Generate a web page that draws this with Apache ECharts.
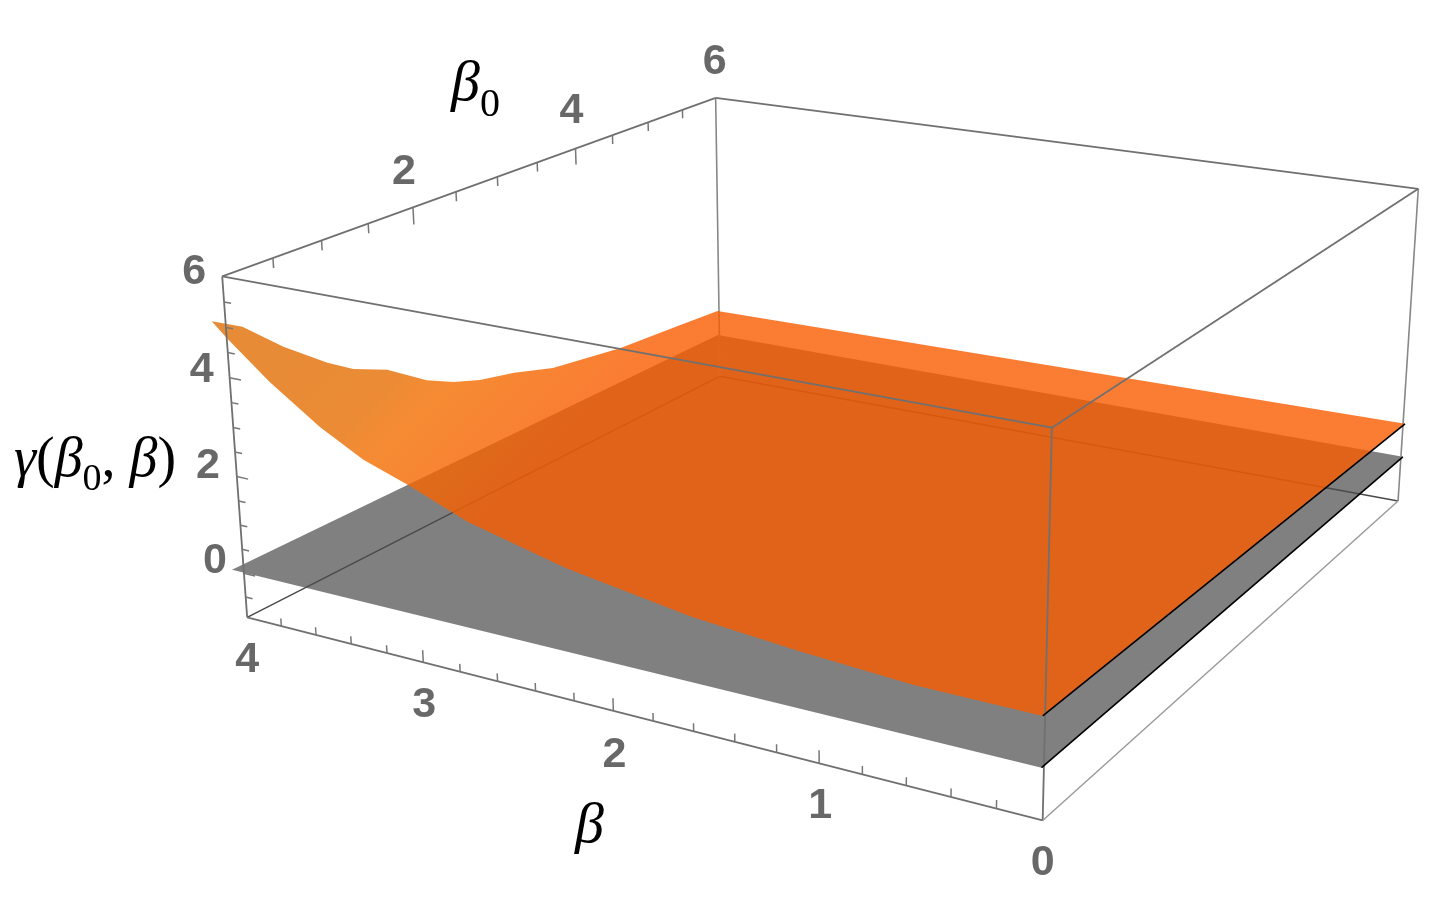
<!DOCTYPE html>
<html>
<head>
<meta charset="utf-8">
<style>html,body{margin:0;background:#fff}#main{width:1434px;height:912px}</style>
</head>
<body>
<div id="main"></div>
<script src="https://cdn.jsdelivr.net/npm/echarts@6/dist/echarts.min.js"></script>
<script>
// axis ranges of the box
const betaRange = [0, 4];
const beta0Range = [0, 6];
const gammaRange = [-0.93, 6];

const betaMajor = [0, 1, 2, 3, 4];
const betaMinor = [0.2, 0.4, 0.6, 0.8, 1.2, 1.4, 1.6, 1.8, 2.2, 2.4, 2.6, 2.8, 3.2, 3.4, 3.6, 3.8];
const beta0Major = [2, 4, 6];
const beta0Minor = [0.5, 1, 1.5, 2.5, 3, 3.5, 4.5, 5, 5.5];
const gammaMajor = [0, 2, 4, 6];
const gammaMinor = [-0.5, 0.5, 1, 1.5, 2.5, 3, 3.5, 4.5, 5, 5.5];

// surface edge at beta0 = 0
const frontBeta = [0.01, 0.57, 1.1, 1.6, 2.22, 2.72, 3.03, 3.27, 3.5, 3.77, 4.0, 4.08];
const frontGamma = [0.97, 0.98, 1.11, 1.28, 1.66, 2.13, 2.6, 2.91, 3.38, 4.08, 4.79, 5.07];
// surface edge at beta = 4
const sideBeta0 = [0.24, 0.63, 1.07, 1.34, 1.71, 2.15, 2.46, 2.78, 3.21, 3.71, 4.63, 5.51];
const sideGamma = [4.79, 4.08, 3.39, 3.04, 2.72, 2.13, 1.83, 1.61, 1.42, 1.12, 0.85, 0.72];
const sideBeta = 4.05;
// far corners at beta0 = 6: [beta, gamma]
const farCornerA = [4.01, 0.73];
const farCornerB = [-0.01, 0.84];
// grey plane corners: [beta, beta0, gamma]
const planeCorners = [[4.07, 0, 0.01], [0.01, 0, 0.03], [-0.01, 6, 0.09], [4.01, 6, 0.12]];

// perspective camera: homogeneous [u, v, w] = camera * [beta, beta0, gamma, 1]
const camera = [
    [-189.3914, 128.4264, -5.749512, 1043.86],
    [-24.29111, -28.90234, -59.90936, 769.8766],
    [0.04339643, 0.04922951, -0.006735215, 1]
];
const project = (b, b0, g) => {
    const w = camera[2][0] * b + camera[2][1] * b0 + camera[2][2] * g + camera[2][3];
    return [
        (camera[0][0] * b + camera[0][1] * b0 + camera[0][2] * g + camera[0][3]) / w,
        (camera[1][0] * b + camera[1][1] * b0 + camera[1][2] * g + camera[1][3]) / w
    ];
};

const [b1, b2] = betaRange, [c1, c2] = beta0Range, [g1, g2] = gammaRange;

const surfaceRing = []
frontBeta.forEach((b, i) => surfaceRing.push([b, 0, frontGamma[i]]))
sideBeta0.forEach((c, i) => surfaceRing.push([sideBeta, c, sideGamma[i]]))
surfaceRing.push([farCornerA[0], c2, farCornerA[1]])
surfaceRing.push([farCornerB[0], c2, farCornerB[1]])

// segments are [b, b0, g, b, b0, g]
const backEdges = [
    [b2, c1, g1, b2, c2, g1],
    [b2, c2, g1, b1, c2, g1]
];
const backUpright = [[b2, c2, g1, b2, c2, g2], [b1, c2, g1, b1, c2, g2]];
const frontEdges = [
    [b2, c1, g2, b2, c2, g2],
    [b2, c2, g2, b1, c2, g2],
    [b1, c2, g2, b1, c1, g2],
    [b1, c1, g2, b2, c1, g2],
    [b2, c1, g1, b2, c1, g2],
    [b1, c1, g1, b1, c1, g2],
    [b2, c1, g1, b1, c1, g1]
];
const lightEdges = [[b1, c1, g1, b1, c2, g1]];
const blackEdges = [
    [planeCorners[1][0], 0, planeCorners[1][2], planeCorners[2][0], c2, planeCorners[2][2]],
    [frontBeta[0], 0, frontGamma[0], farCornerB[0], c2, farCornerB[1]]
];
const ticks = [
    ...betaMajor.slice(1, 4).map(b => [b, c1, g1, b, c1, g1 + 0.25]),
    ...betaMinor.map(b => [b, c1, g1, b, c1, g1 + 0.16]),
    ...beta0Major.slice(0, 2).map(c => [b2, c, g2, b2, c, g2 - 0.36]),
    ...beta0Minor.map(c => [b2, c, g2, b2, c, g2 - 0.2]),
    ...gammaMajor.slice(0, 3).map(g => [b2, c1, g, b2 - 0.065, c1, g]),
    ...gammaMinor.map(g => [b2, c1, g, b2 - 0.04, c1, g])
];

// label nudges in pixels, one per tick label
const betaLabelNudge = [[0, 43], [1, 43], [1, 44], [1, 43], [0, 43]];
const beta0LabelNudge = [[-9, -35], [-4, -37], [-1, -36]];
const gammaLabelNudge = [[-29, -12], [-29, -10], [-28, -8], [-28, -4]];
const tickLabels = [
    ...betaMajor.map((b, i) => [b, c1, g1, b, ...betaLabelNudge[i]]),
    ...beta0Major.map((c, i) => [b2, c, g2, c, ...beta0LabelNudge[i]]),
    ...gammaMajor.map((g, i) => [b2, c1, g, g, ...gammaLabelNudge[i]])
];

const segmentLayer = (name, data, z, style) => ({
    name, type: 'custom', coordinateSystem: 'cartesian2d', clip: false, silent: true, z,
    data,
    renderItem(params, api) {
        const a = api.coord(project(api.value(0), api.value(1), api.value(2)));
        const b = api.coord(project(api.value(3), api.value(4), api.value(5)));
        return {type: 'line', shape: {x1: a[0], y1: a[1], x2: b[0], y2: b[1]}, style};
    }
});

const polygonLayer = (name, ring, z, style) => ({
    name, type: 'custom', coordinateSystem: 'cartesian2d', clip: false, silent: true, z,
    data: ring,
    renderItem(params, api) {
        if (params.dataIndex !== 0) return null;
        const points = ring.map(p => api.coord(project(p[0], p[1], p[2])));
        return {type: 'polygon', shape: {points}, style};
    }
});

const surfaceFill = new echarts.graphic.LinearGradient(230, 330, 450, 550, [
    {offset: 0, color: 'rgba(224,110,4,0.8)'},
    {offset: 0.47, color: 'rgba(230,110,3,0.8)'},
    {offset: 0.62, color: 'rgba(243,110,0,0.8)'},
    {offset: 1, color: 'rgba(249,92,0,0.8)'}
], true);

const chart = echarts.init(document.getElementById('main'), null, {renderer: 'canvas'});
chart.setOption({
    animation: false,
    backgroundColor: '#fff',
    grid: {left: 0, right: 0, top: 0, bottom: 0},
    xAxis: {type: 'value', min: 0, max: 1434, show: false},
    yAxis: {type: 'value', min: 0, max: 912, inverse: true, show: false},
    series: [
        polygonLayer('plane', planeCorners, 1, {fill: '#808080'}),
        segmentLayer('back edges', backEdges, 2, {stroke: '#4a4a4a', lineWidth: 1.4}),
        segmentLayer('back uprights', backUpright, 2, {stroke: '#888', lineWidth: 1.6}),
        polygonLayer('surface', surfaceRing, 3, {fill: surfaceFill}),
        segmentLayer('front edges', frontEdges, 4, {stroke: '#707070', lineWidth: 1.8}),
        segmentLayer('light edges', lightEdges, 4, {stroke: '#999', lineWidth: 1.4}),
        segmentLayer('black edges', blackEdges, 5, {stroke: '#000', lineWidth: 1.6}),
        segmentLayer('ticks', ticks, 4, {stroke: '#777', lineWidth: 1.5}),
        {
            name: 'tick labels', type: 'custom', coordinateSystem: 'cartesian2d', clip: false, silent: true, z: 6,
            data: tickLabels,
            renderItem(params, api) {
                const p = api.coord(project(api.value(0), api.value(1), api.value(2)));
                return {
                    type: 'text',
                    style: {
                        x: p[0] + api.value(4), y: p[1] + api.value(5),
                        text: String(api.value(3)), fill: '#686868',
                        font: 'bold 43px "Liberation Sans"',
                        align: 'center', verticalAlign: 'middle'
                    }
                };
            }
        }
    ],
    graphic: [
        {
            type: 'text', left: 451, top: 53,
            style: {
                text: '{i|β}{s|0}', fill: '#000',
                rich: {
                    i: {font: 'italic 58px "Liberation Serif"', verticalAlign: 'bottom', lineHeight: 64, height: 64},
                    s: {font: '40px "Liberation Serif"', verticalAlign: 'bottom', lineHeight: 24, height: 24}
                }
            }
        },
        {
            type: 'text', left: 14, top: 431,
            style: {
                text: '{i|γ}{r|(}{i|β}{s|0}{r|, }{i|β}{r|)}', fill: '#000',
                rich: {
                    i: {font: 'italic 56px "Liberation Serif"', verticalAlign: 'bottom', lineHeight: 60, height: 60},
                    r: {font: '56px "Liberation Serif"', verticalAlign: 'bottom', lineHeight: 60, height: 60},
                    s: {font: '38px "Liberation Serif"', verticalAlign: 'bottom', lineHeight: 22, height: 22}
                }
            }
        },
        {
            type: 'text', left: 575, top: 798,
            style: {text: 'β', fill: '#000', font: 'italic 58px "Liberation Serif"'}
        }
    ]
});
</script>
</body>
</html>
